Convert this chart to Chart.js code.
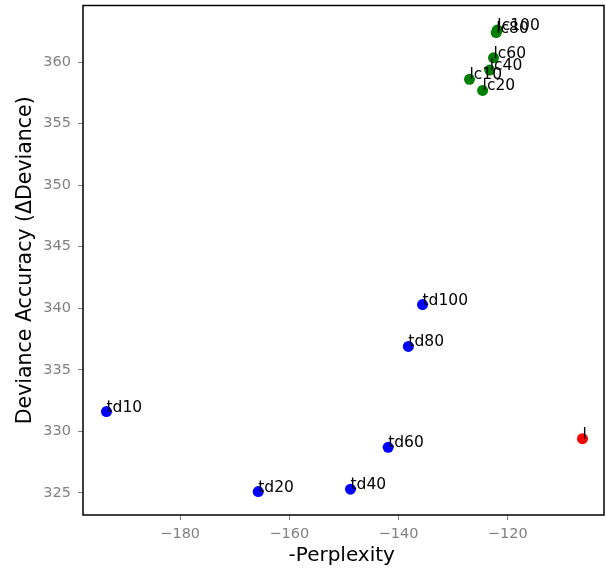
<!DOCTYPE html>
<html><head><meta charset="utf-8">
<script src="https://cdn.jsdelivr.net/npm/chart.js@4"></script>
<style>html,body{margin:0;padding:0;background:#fff;overflow:hidden}#wrap{width:606px;height:569px}canvas{display:block}</style>
</head><body><div id="wrap"><canvas id="c" width="606" height="569"></canvas></div>
<script>
const tdLabels = ['td10','td20','td40','td60','td80','td100'];
const tdX = [-193.5,-165.7,-148.8,-141.9,-138.2,-135.6];
const tdY = [331.6,325.1,325.3,328.7,336.9,340.3];
const lcLabels = ['lc10','lc20','lc40','lc60','lc80','lc100'];
const lcX = [-127.0,-124.6,-123.3,-122.6,-122.1,-121.9];
const lcY = [358.6,357.7,359.35,360.35,362.4,362.6];
const lLabels = ['l'];
const lX = [-106.3];
const lY = [329.4];
const xTicks = [-180,-160,-140,-120];
const yTicks = [325,330,335,340,345,350,355,360];

const FONT = "'DejaVu Sans', sans-serif";
function pts(xs, ys, labels){ return xs.map((x,i)=>({x:x,y:ys[i],label:labels[i]})); }

const labelPlugin = {
  id:'labels',
  afterDatasetsDraw(chart){
    const ctx = chart.ctx, xs = chart.scales.x, ys = chart.scales.y;
    ctx.save();
    ctx.font = "15.5px " + FONT;
    ctx.fillStyle = '#000';
    ctx.textAlign = 'left';
    ctx.textBaseline = 'alphabetic';
    chart.data.datasets.forEach(ds=>{
      ds.data.forEach(p=>{
        ctx.fillText(p.label, xs.getPixelForValue(p.x), ys.getPixelForValue(p.y));
      });
    });
    ctx.restore();
  }
};
const framePlugin = {
  id:'frame',
  afterDraw(chart){
    const a = chart.chartArea, ctx = chart.ctx;
    const right = Math.min(a.right + 4, chart.width - 2);
    ctx.save();
    ctx.strokeStyle = '#000';
    ctx.lineWidth = 1.5;
    ctx.strokeRect(a.left, a.top, right - a.left, a.bottom - a.top);
    ctx.restore();
  }
};
function noPad(s){ s.paddingTop = 0; s.paddingBottom = 0; s.paddingLeft = 0; s.paddingRight = 0; }

new Chart(document.getElementById('c'), {
  type:'scatter',
  data:{datasets:[
    {data:pts(tdX,tdY,tdLabels), backgroundColor:'#0000ff', borderColor:'#0000ff', pointRadius:5.5, pointBorderWidth:0},
    {data:pts(lcX,lcY,lcLabels), backgroundColor:'#008000', borderColor:'#008000', pointRadius:5.5, pointBorderWidth:0},
    {data:pts(lX,lY,lLabels), backgroundColor:'#ff0000', borderColor:'#ff0000', pointRadius:5.5, pointBorderWidth:0}
  ]},
  options:{
    responsive:false, animation:false, devicePixelRatio:1,
    layout:{padding:{top:5,right:2,left:0,bottom:0}},
    plugins:{legend:{display:false}, tooltip:{enabled:false}},
    scales:{
      x:{type:'linear', min:-197.8, max:-103.0,
        afterBuildTicks(s){ s.ticks = xTicks.map(v=>({value:v})); },
        afterFit(s){ s.height = 54; noPad(s); },
        grid:{display:true, drawOnChartArea:false, drawTicks:true, tickLength:5, tickColor:'#808080', tickWidth:1},
        border:{display:false},
        ticks:{color:'#808080', padding:6, font:{family:FONT,size:14.5}, maxRotation:0,
          callback:v=>String(v).replace('-','\u2212')},
        title:{display:true, text:'-Perplexity', color:'#000', font:{family:FONT,size:20}, padding:{top:0,bottom:1}}
      },
      y:{type:'linear', min:323.2, max:364.6,
        afterBuildTicks(s){ s.ticks = yTicks.map(v=>({value:v})); },
        afterFit(s){ s.width = 83; noPad(s); },
        grid:{display:true, drawOnChartArea:false, drawTicks:true, tickLength:5, tickColor:'#808080', tickWidth:1},
        border:{display:false},
        ticks:{color:'#808080', padding:7, font:{family:FONT,size:14.5}},
        title:{display:true, text:'Deviance Accuracy (\u0394Deviance)', color:'#000', font:{family:FONT,size:20.5}, padding:{top:13,bottom:4}}
      }
    }
  },
  plugins:[labelPlugin, framePlugin]
});
</script>
</body></html>
